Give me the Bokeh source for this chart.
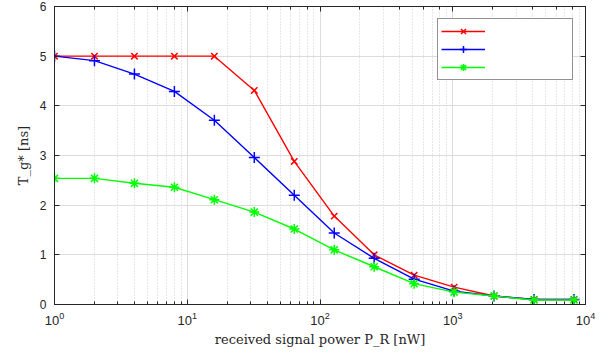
from bokeh.plotting import figure
from bokeh.models import Legend, LegendItem, LogAxis, LinearAxis, FixedTicker, LogTicker, Label
from bokeh.embed import file_html
from bokeh.resources import INLINE

# ---- data ----
power_nW = [1, 2, 4, 8, 16, 32, 64, 128, 256, 512, 1024, 2048, 4096, 8192]
tg_pb20 = [5.0, 5.0, 5.0, 5.0, 5.0, 4.31, 2.88, 1.78, 1.0, 0.59, 0.35, 0.17, 0.10, 0.10]
tg_pb40 = [5.0, 4.91, 4.64, 4.29, 3.71, 2.96, 2.20, 1.44, 0.93, 0.51, 0.27, 0.17, 0.10, 0.10]
tg_pb80 = [2.54, 2.54, 2.44, 2.36, 2.11, 1.86, 1.52, 1.10, 0.76, 0.42, 0.25, 0.17, 0.09, 0.09]
pb_values = ["20", "40", "80"]
y_ticks = [0, 1, 2, 3, 4, 5, 6]
x_label = "received signal power P_R [nW]"
y_label = "T_g* [ns]"

# ---- layout ----
W, H = 605, 353
BL, BR, BT, BB = 54, 20, 6, 49
FRAME_L = BL
FRAME_B = H - BB
FRAME_T = BT

def sx(px):
    return px - FRAME_L

def sy(py):
    return FRAME_B - py

AX = "#262626"
GRID = "#dcdcdc"
SERIF = "DejaVu Serif"

p = figure(width=W, height=H, x_axis_type="log", x_range=(1, 1e4), y_range=(0, 6),
           output_backend="svg", toolbar_location=None,
           min_border_left=BL, min_border_right=BR, min_border_top=BT, min_border_bottom=BB,
           background_fill_color="white", border_fill_color="white")
p.outline_line_color = AX
p.outline_line_width = 1

xa = p.xaxis[0]
xa.axis_label = x_label
xa.axis_label_text_font = SERIF
xa.axis_label_text_font_size = "13px"
xa.axis_label_text_font_style = "normal"
xa.axis_label_text_color = AX
xa.axis_label_standoff = 4
xa.major_label_text_font = "Liberation Sans"
xa.major_label_text_font_size = "13px"
xa.major_label_text_color = AX
xa.major_label_standoff = 7
xa.major_tick_in = 5
xa.major_tick_out = 0
xa.minor_tick_in = 3
xa.minor_tick_out = 0
xa.axis_line_color = AX
xa.major_tick_line_color = AX
xa.minor_tick_line_color = AX

ya = p.yaxis[0]
ya.ticker = FixedTicker(ticks=y_ticks)
ya.axis_label = y_label
ya.axis_label_text_font = SERIF
ya.axis_label_text_font_size = "13px"
ya.axis_label_text_font_style = "normal"
ya.axis_label_text_color = AX
ya.axis_label_standoff = 6
ya.major_label_text_font = "Liberation Sans"
ya.major_label_text_font_size = "12px"
ya.major_label_text_color = AX
ya.major_label_standoff = 8
ya.major_tick_in = 5
ya.major_tick_out = 0
ya.minor_tick_line_color = None
ya.axis_line_color = AX
ya.major_tick_line_color = AX

top = LogAxis(ticker=LogTicker(), major_label_text_font_size="1px", major_label_text_color=None,
              major_label_standoff=0,
              major_tick_in=5, major_tick_out=0, minor_tick_in=3, minor_tick_out=0,
              axis_line_color=AX, major_tick_line_color=AX, minor_tick_line_color=AX)
p.add_layout(top, "above")
right = LinearAxis(ticker=FixedTicker(ticks=y_ticks), major_label_text_font_size="1px",
                   major_label_text_color=None,
                   major_label_standoff=0, major_tick_in=5, major_tick_out=0,
                   minor_tick_line_color=None, axis_line_color=AX, major_tick_line_color=AX)
p.add_layout(right, "right")

p.xgrid.grid_line_color = GRID
p.xgrid.minor_grid_line_color = "#cfcfcf"
p.xgrid.minor_grid_line_dash = "1 2"
p.ygrid.grid_line_color = GRID
p.ygrid.ticker = FixedTicker(ticks=y_ticks)

colors = ["#ff0000", "#0000ff", "#00ff00"]
markers = ["x", "cross", "asterisk"]
sizes = [9, 11, 10]
items = []
for ys, c, m, s in zip([tg_pb20, tg_pb40, tg_pb80], colors, markers, sizes):
    l = p.line(power_nW, ys, line_color=c, line_width=1.4)
    g = p.scatter(power_nW, ys, marker=m, size=s, line_color=c, line_width=1.5, fill_color=c)
    items.append(LegendItem(label=" ", renderers=[l, g]))

legend = Legend(items=items, location="top_right", margin=12, padding=3, spacing=0,
                glyph_width=44, glyph_height=18, label_height=18, label_width=80,
                label_standoff=4, border_line_color=AX, border_line_width=1,
                background_fill_color="white", background_fill_alpha=1.0,
                label_text_font=SERIF, label_text_font_size="12px", label_text_color=AX,
                level="guide")
p.add_layout(legend)

# legend texts drawn over the legend (annotation level, after the guide-level legend)
leg_top = FRAME_T + 12
for i, v in enumerate(pb_values):
    c = leg_top + 3 + 9 + 18 * i
    p.add_layout(Label(x=sx(491), y=sy(c + 7.5), x_units="screen", y_units="screen", text="P",
                       text_font=SERIF, text_font_size="13px", text_font_style="italic",
                       text_color=AX))
    p.add_layout(Label(x=sx(499.5), y=sy(c + 10), x_units="screen", y_units="screen", text="b",
                       text_font=SERIF, text_font_size="9px", text_font_style="italic",
                       text_color=AX))
    p.add_layout(Label(x=sx(507), y=sy(c + 7.5), x_units="screen", y_units="screen",
                       text="= " + v + " nW", text_font=SERIF, text_font_size="13px",
                       text_color=AX))

open("out.html", "w").write(file_html(p, INLINE))
